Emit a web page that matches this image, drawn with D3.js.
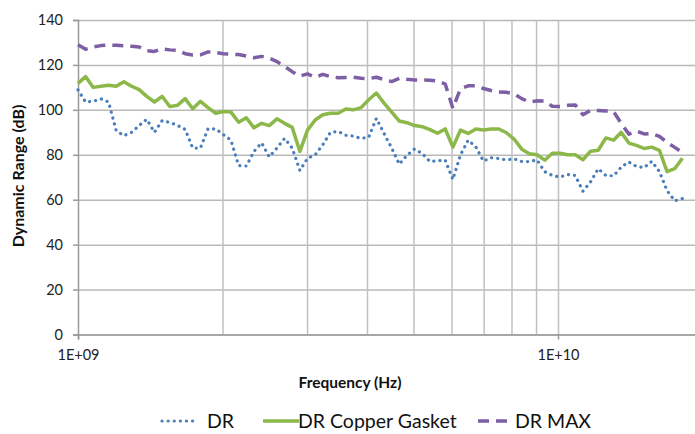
<!DOCTYPE html>
<html>
<head>
<meta charset="utf-8">
<script src="https://cdn.jsdelivr.net/npm/d3@7"></script>
<style>
  body { margin: 0; background: #fff; }
  svg { display: block; font-family: Lato, "Open Sans", sans-serif; }
</style>
</head>
<body>
<svg id="chart" width="695" height="434"></svg>
<script>
// frequencies in GHz (log spaced sweep)
const freqGHz = [
  1.000, 1.037, 1.076, 1.116, 1.158, 1.201, 1.246, 1.293, 1.341, 1.391,
  1.443, 1.497, 1.553, 1.611, 1.672, 1.734, 1.799, 1.866, 1.936, 2.008,
  2.083, 2.161, 2.242, 2.326, 2.413, 2.503, 2.597, 2.694, 2.794, 2.899,
  3.007, 3.120, 3.236, 3.357, 3.483, 3.613, 3.748, 3.888, 4.033, 4.184,
  4.341, 4.503, 4.671, 4.846, 5.027, 5.215, 5.410, 5.612, 5.822, 6.039,
  6.265, 6.499, 6.742, 6.994, 7.256, 7.527, 7.808, 8.100, 8.403, 8.717,
  9.043, 9.381, 9.732, 10.096, 10.473, 10.865, 11.271, 11.692, 12.129, 12.582,
  13.053, 13.541, 14.047, 14.572, 15.117, 15.682, 16.268, 16.876, 17.507, 18.161
];

const drValues = [
  108.9, 103.5, 103.8, 104.9, 103.5, 90.8, 88.5, 90.0, 93.0, 95.8,
  90.0, 95.2, 94.4, 93.1, 91.3, 83.0, 83.0, 91.6, 91.5, 89.0,
  86.5, 75.2, 75.0, 81.5, 85.3, 79.1, 83.0, 87.3, 83.0, 73.0,
  78.4, 80.0, 84.5, 90.0, 90.4, 88.7, 88.3, 87.3, 87.8, 96.2,
  89.5, 83.0, 75.8, 79.8, 82.6, 80.5, 77.0, 77.3, 77.6, 69.0,
  80.0, 86.5, 83.5, 77.2, 78.7, 78.3, 77.7, 78.2, 77.0, 77.0,
  77.7, 72.5, 70.8, 70.1, 71.2, 70.8, 63.8, 68.0, 73.8, 70.8,
  70.6, 74.5, 76.8, 74.8, 74.3, 77.1, 72.5, 64.0, 59.5, 60.5
];

const drCopperValues = [
  111.8, 114.8, 110.0, 110.5, 111.0, 110.5, 112.5, 110.5, 109.0, 106.0,
  103.5, 106.0, 101.5, 102.0, 105.0, 100.5, 103.8, 101.0, 98.5, 99.3,
  99.0, 94.5, 96.5, 92.0, 94.0, 93.0, 96.0, 94.0, 92.2, 81.5,
  91.0, 95.5, 97.8, 98.5, 98.5, 100.4, 100.0, 101.0, 104.5, 107.5,
  103.0, 99.0, 95.0, 94.3, 93.0, 92.5, 91.2, 89.6, 91.5, 83.4,
  91.0, 89.5, 91.5, 91.0, 91.5, 91.5, 89.8, 87.0, 82.5, 80.5,
  80.0, 77.6, 80.7, 80.7, 80.0, 80.0, 77.8, 81.6, 82.0, 87.5,
  86.5, 90.0, 85.2, 84.2, 82.8, 83.4, 82.0, 72.5, 73.8, 78.5
];

const drMaxValues = [
  129.0, 127.0, 128.0, 128.6, 128.8, 128.8, 128.5, 128.3, 128.0, 126.3,
  126.0, 127.2, 126.7, 126.5, 125.0, 124.4, 124.5, 125.8, 125.5, 125.0,
  124.8, 124.6, 124.0, 123.2, 123.8, 123.0, 121.5, 119.3, 117.0, 115.0,
  116.0, 114.5, 115.8, 114.8, 114.3, 114.4, 114.5, 114.1, 113.9, 114.5,
  113.5, 112.6, 114.0, 113.6, 113.3, 113.3, 113.2, 112.8, 111.5, 100.7,
  109.5, 110.7, 110.7, 109.5, 108.6, 108.0, 107.8, 107.2, 105.0, 103.5,
  104.0, 103.9, 101.6, 101.5, 102.0, 102.2, 97.8, 99.8, 99.7, 99.5,
  99.3, 94.0, 89.2, 90.6, 89.3, 89.5, 88.2, 85.5, 83.3, 81.0
];

const yTicks = [0, 20, 40, 60, 80, 100, 120, 140];
const xLabelTicks = [1e9, 1e10];
const xLabels = ["1E+09", "1E+10"];
const seriesNames = ["DR", "DR Copper Gasket", "DR MAX"];

const colors = ["#4a7ebb", "#8cb84a", "#7d5fa5"];
const dashes = ["0.1,6", null, "11,7"];
const widths = [3.2, 3.5, 3.5];

const svg = d3.select("#chart");

const x = d3.scaleLog().domain([1e9, 2e10]).range([78, 702.5]);
const y = d3.scaleLinear().domain([0, 140]).range([334.5, 20]);

// horizontal gridlines
svg.append("g")
  .attr("transform", "translate(78,0)")
  .call(d3.axisLeft(y).tickValues(yTicks).tickSize(-700).tickFormat(""))
  .call(g => g.select(".domain").remove())
  .call(g => g.selectAll("line").attr("stroke", "#b9b9b9").attr("stroke-width", 1.5));

// vertical gridlines on log minors
svg.append("g")
  .attr("transform", "translate(0,334.5)")
  .call(d3.axisBottom(x).tickValues(x.ticks().filter(d => d > 1e9)).tickSize(-314.5).tickFormat(""))
  .call(g => g.select(".domain").remove())
  .call(g => g.selectAll("line").attr("stroke", "#c0c0c0").attr("stroke-width", 1.5));

// y axis
svg.append("g")
  .attr("transform", "translate(78,0)")
  .call(d3.axisLeft(y).tickValues(yTicks).tickSize(5).tickPadding(10))
  .call(g => g.select(".domain").attr("stroke", "#9a9a9a").attr("stroke-width", 1.5))
  .call(g => g.selectAll("line").attr("stroke", "#9a9a9a").attr("stroke-width", 1.5))
  .call(g => g.selectAll("text").attr("font-size", 14.5).attr("fill", "#222").attr("font-family", "Lato"));

// x axis
svg.append("g")
  .attr("transform", "translate(0,334.5)")
  .call(d3.axisBottom(x).tickValues(xLabelTicks).tickSize(5).tickPadding(10)
    .tickFormat((d, i) => xLabels[i]))
  .call(g => g.select(".domain").attr("stroke", "#9a9a9a").attr("stroke-width", 1.5))
  .call(g => g.selectAll("line").attr("stroke", "#9a9a9a").attr("stroke-width", 1.5))
  .call(g => g.selectAll("text").attr("font-size", 14.5).attr("fill", "#222").attr("font-family", "Lato"));

// series
const series = [drValues, drCopperValues, drMaxValues];
const line = d3.line()
  .x((d, i) => x(freqGHz[i] * 1e9))
  .y(d => y(d));

series.forEach(function(values, s) {
  svg.append("path")
    .datum(values)
    .attr("d", line)
    .attr("fill", "none")
    .attr("stroke", colors[s])
    .attr("stroke-width", widths[s])
    .attr("stroke-linejoin", "round")
    .attr("stroke-linecap", s === 0 ? "round" : "butt")
    .attr("stroke-dasharray", dashes[s]);
});

// axis titles
svg.append("text")
  .attr("transform", "translate(24,176) rotate(-90)")
  .attr("text-anchor", "middle")
  .attr("font-size", 16)
  .attr("font-weight", "bold")
  .attr("fill", "#111")
  .text("Dynamic Range (dB)");

svg.append("text")
  .attr("x", 350)
  .attr("y", 388)
  .attr("text-anchor", "middle")
  .attr("font-size", 15.5)
  .attr("font-weight", "bold")
  .attr("fill", "#111")
  .text("Frequency (Hz)");

// legend
const legendX = [162, 263, 478];
const legendTextX = [207, 298, 515];
const legend = svg.append("g").attr("class", "legend");
seriesNames.forEach(function(name, s) {
  legend.append("line")
    .attr("x1", legendX[s]).attr("x2", legendX[s] + (s === 2 ? 29 : 36))
    .attr("y1", 421).attr("y2", 421)
    .attr("stroke", colors[s])
    .attr("stroke-width", widths[s])
    .attr("stroke-linecap", s === 0 ? "round" : "butt")
    .attr("stroke-dasharray", dashes[s]);
  legend.append("text")
    .attr("x", legendTextX[s])
    .attr("y", 428)
    .attr("font-size", 19.5)
    .attr("fill", "#111")
    .text(name);
});
</script>
</body>
</html>
